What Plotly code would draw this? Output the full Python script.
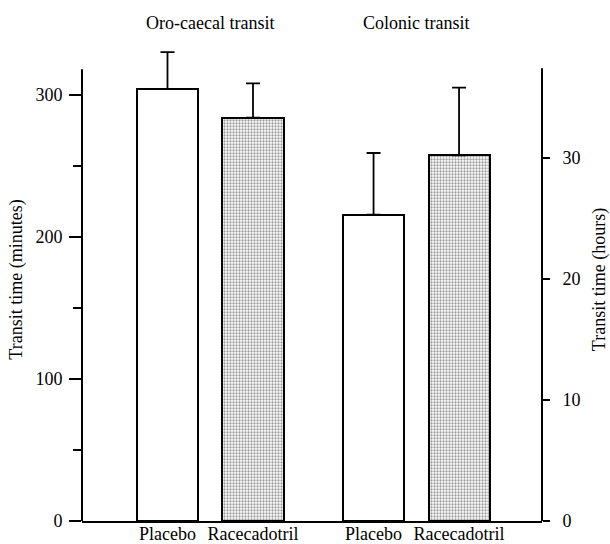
import plotly.graph_objects as go

# Mean transit times with upper SD whiskers
groups = ["Oro-caecal transit", "Colonic transit"]
treatments = ["Placebo", "Racecadotril"]
oro_caecal_minutes = [304, 284]
oro_caecal_sd = [26, 24]
colonic_hours = [25.3, 30.2]
colonic_sd = [5.1, 5.6]

minutes_ticks = [0, 100, 200, 300]
hours_ticks = [0, 10, 20, 30]

# Visible extent of the two value axes (the plot area runs a little higher
# so that the tallest whisker is not clipped)
minutes_axis_top = 318
hours_axis_top = 37.4
minutes_range = [0, 340]
hours_range = [0, 39.9]

# Bar layout in x units (one unit = spacing between paired bars)
bar_pos_oro = [1.0, 2.0]
bar_pos_col = [3.41, 4.41]
bar_width = 0.715
x_range = [0, 5.38]

FONT = "Liberation Serif, Times New Roman, serif"
patterns = [dict(shape=""), dict(shape=".", fgcolor="#3a3a3a", bgcolor="white", size=3, solidity=0.45)]

fig = go.Figure()

def add_bars(xs, vals, errs, axis):
    for i in range(2):
        fig.add_trace(go.Bar(
            x=[xs[i]], y=[vals[i]], width=bar_width,
            yaxis=axis,
            marker=dict(color="white", pattern=patterns[i],
                        line=dict(color="black", width=2)),
            error_y=dict(type="data", array=[errs[i]], arrayminus=[0],
                         symmetric=False, color="black", thickness=1.8, width=7),
            showlegend=False, hoverinfo="skip",
        ))

add_bars(bar_pos_oro, oro_caecal_minutes, oro_caecal_sd, "y")
add_bars(bar_pos_col, colonic_hours, colonic_sd, "y2")

axis_font = dict(family=FONT, size=18, color="black")

fig.update_layout(
    width=610, height=544,
    margin=dict(l=82, r=68, t=38, b=23),
    paper_bgcolor="white", plot_bgcolor="white",
    font=axis_font,
    bargap=0,
    xaxis=dict(
        range=x_range, showgrid=False, zeroline=False,
        showline=True, linecolor="black", linewidth=2,
        tickvals=bar_pos_oro + bar_pos_col,
        ticktext=treatments + treatments,
        ticks="", tickfont=axis_font, ticklabelstandoff=-5,
        automargin=False,
    ),
    yaxis=dict(
        range=minutes_range, showgrid=False, zeroline=False, showline=False,
        tickvals=minutes_ticks, ticks="outside", ticklen=12, tickwidth=1.5,
        tickcolor="black", tickfont=axis_font, ticklabelstandoff=3,
        minor=dict(tickvals=[50, 150, 250], ticks="outside", ticklen=8,
                   tickwidth=1.5, tickcolor="black"),
        title=dict(text="Transit time (minutes)", font=axis_font, standoff=8),
        automargin=False,
    ),
    yaxis2=dict(
        range=hours_range, overlaying="y", side="right", anchor="x",
        showgrid=False, zeroline=False, showline=False,
        tickvals=hours_ticks, ticks="outside", ticklen=7, tickwidth=1.5,
        tickcolor="black", tickfont=axis_font, ticklabelstandoff=9,
        title=dict(text="Transit time (hours)", font=axis_font, standoff=12),
        automargin=False,
    ),
)

# Axis spines, stopping short of the top of the plot area
fig.add_shape(type="line", xref="paper", yref="y", x0=0, x1=0,
              y0=0, y1=minutes_axis_top, line=dict(color="black", width=2))
fig.add_shape(type="line", xref="paper", yref="y2", x0=1, x1=1,
              y0=0, y1=hours_axis_top, line=dict(color="black", width=2))

for name, xs in zip(groups, [bar_pos_oro, bar_pos_col]):
    fig.add_annotation(
        x=sum(xs) / 2, xref="x", y=1, yref="paper", yshift=15,
        text=name, showarrow=False, font=axis_font,
        xanchor="center", yanchor="middle",
    )

fig.write_html("out.html")
